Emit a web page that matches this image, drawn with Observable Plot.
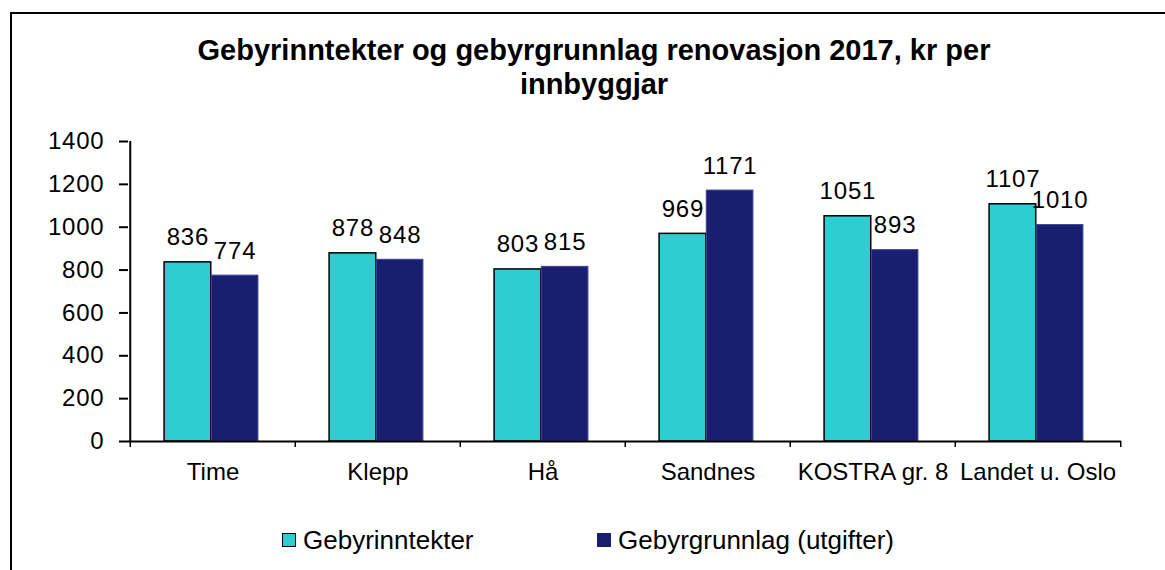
<!DOCTYPE html>
<html>
<head>
<meta charset="utf-8">
<script src="https://cdn.jsdelivr.net/npm/d3@7"></script>
<script src="https://cdn.jsdelivr.net/npm/@observablehq/plot@0.6"></script>
<style>
  html, body { margin: 0; padding: 0; background: #fff; overflow: hidden; }
  body { width: 1165px; height: 570px; position: relative; font-family: "Liberation Sans", Arial, sans-serif; }
  #frame { position: absolute; left: 10px; top: 12px; width: 1200px; height: 600px; border-top: 2px solid #000; border-left: 2px solid #000; z-index: 2; pointer-events: none; }
  #title { position: absolute; left: 20px; width: 1148px; top: 33px; text-align: center; font-weight: bold; font-size: 29px; line-height: 34px; color: #000; }
  #chart { position: absolute; left: 0; top: 120px; }
  #chart svg { background: transparent !important; }
  .lg { position: absolute; top: 522px; height: 36px; display: flex; align-items: center; font-size: 26px; color: #000; }
  .sw { width: 12px; height: 12px; margin-right: 7px; box-sizing: content-box; }
</style>
</head>
<body>
<div id="frame"></div>
<div id="title">Gebyrinntekter og gebyrgrunnlag renovasjon 2017, kr per<br>innbyggjar</div>
<div id="chart"></div>
<div class="lg" style="left:282px"><div class="sw" style="background:#2ecdd2;border:1.5px solid #000"></div>Gebyrinntekter</div>
<div class="lg" style="left:597px"><div class="sw" style="background:#191f6e;border:1px solid #191f6e"></div>Gebyrgrunnlag (utgifter)</div>
<script>
const cities = ["Time", "Klepp", "Hå", "Sandnes", "KOSTRA gr. 8", "Landet u. Oslo"];
const inntekter = [836, 878, 803, 969, 1051, 1107];
const grunnlag = [774, 848, 815, 1171, 893, 1010];
const yTicks = [0, 200, 400, 600, 800, 1000, 1200, 1400];
const seriesNames = ["Gebyrinntekter", "Gebyrgrunnlag (utgifter)"];
const colors = ["#2ecdd2", "#191f6e"];

const W = 1165, H = 370, ML = 128, MR = 44, MT = 21, MB = 49;
const bw = (W - ML - MR) / cities.length;
const barW = bw * 0.285;

const dataA = cities.map((c, i) => ({city: c, value: inntekter[i]}));
const dataB = cities.map((c, i) => ({city: c, value: grunnlag[i]}));

const chart = Plot.plot({
  width: W, height: H,
  marginLeft: ML, marginRight: MR, marginTop: MT, marginBottom: MB,
  style: {fontFamily: "Liberation Sans, Arial, sans-serif", background: "transparent", color: "#000"},
  x: {type: "band", domain: cities, padding: 0, label: null},
  y: {domain: [0, 1400], label: null},
  marks: [
    Plot.barY(dataA, {x: "city", y: "value", fill: colors[0], stroke: "#000", strokeWidth: 1.5,
      insetLeft: bw / 2 - barW - 1.5, insetRight: bw / 2 + 1.5}),
    Plot.barY(dataB, {x: "city", y: "value", fill: colors[1], stroke: "#3b4592", strokeWidth: 1,
      insetLeft: bw / 2 - 1.5, insetRight: bw / 2 - barW + 1.5}),
    Plot.text(dataA, {x: "city", y: "value", text: d => String(d.value), dx: -barW / 2 - 1.5, dy: -17,
      lineAnchor: "bottom", fontSize: 24, fill: "#000", style: "letter-spacing:0.8px"}),
    Plot.text(dataB, {x: "city", y: "value", text: d => String(d.value), dx: barW / 2 - 1.5, dy: -17,
      lineAnchor: "bottom", fontSize: 24, fill: "#000"}),
    Plot.ruleY([0], {stroke: "#000", strokeWidth: 2}),
    Plot.ruleX([cities[0]], {x: d => d, y1: 0, y2: 1400, dx: -bw / 2, stroke: "#000", strokeWidth: 2}),
    Plot.axisY({ticks: yTicks, tickSize: 9, tickPadding: 15, fontSize: 24, strokeWidth: 2, tickFormat: d => String(d)}),
    Plot.axisX({tickSize: 0, tickPadding: 21, fontSize: 24, label: null}),
    Plot.axisX({tickSize: 6, text: null, dx: -bw / 2, strokeWidth: 1.5, label: null}),
    Plot.axisX({ticks: [cities[cities.length - 1]], tickSize: 6, text: null, dx: bw / 2, strokeWidth: 1.5, label: null})
  ]
});
chart.querySelectorAll("text").forEach(t => { if (/^\d+$/.test(t.textContent)) t.style.letterSpacing = "0.8px"; });
document.getElementById("chart").appendChild(chart);
</script>
</body>
</html>
